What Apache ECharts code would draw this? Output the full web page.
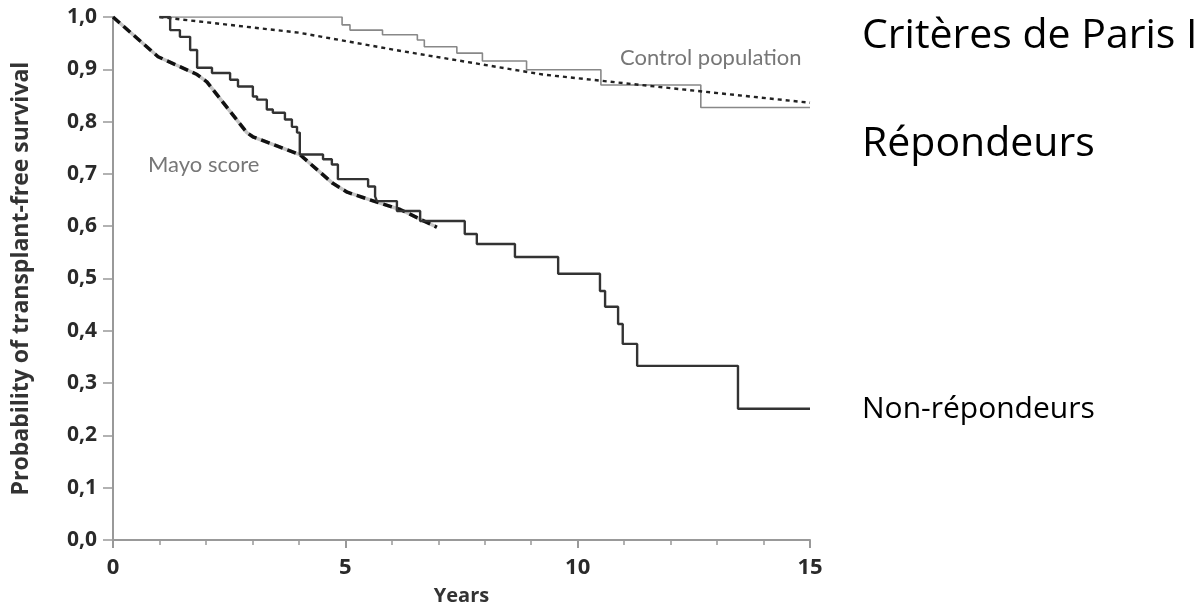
<!DOCTYPE html>
<html>
<head>
<meta charset="utf-8">
<script src="https://cdn.jsdelivr.net/npm/echarts@6/dist/echarts.min.js"></script>
<style>
html,body{margin:0;padding:0;background:#fff;}
#chart{width:1204px;height:611px;}
</style>
</head>
<body>
<div id="chart"></div>
<script>
// Non-responders (Kaplan-Meier step curve)
const nonRespYears = [1.0, 1.23, 1.44, 1.66, 1.81, 2.13, 2.52, 2.69, 3.01, 3.10, 3.31, 3.44, 3.70, 3.85, 3.96, 4.02, 4.52, 4.71, 4.84, 5.49, 5.64, 5.68, 6.11, 6.61, 7.57, 7.83, 8.65, 9.58, 10.48, 10.59, 10.87, 10.97, 11.28, 13.45, 15.0];
const nonRespSurv  = [1.0, 0.975, 0.962, 0.937, 0.903, 0.893, 0.880, 0.867, 0.848, 0.842, 0.823, 0.817, 0.804, 0.790, 0.779, 0.737, 0.728, 0.718, 0.690, 0.676, 0.657, 0.648, 0.629, 0.610, 0.585, 0.566, 0.541, 0.509, 0.476, 0.446, 0.413, 0.375, 0.333, 0.251, 0.251];
// Control population observed (step curve)
const controlYears = [1.0, 4.93, 5.1, 5.8, 6.55, 6.7, 7.4, 7.95, 8.9, 10.5, 12.65, 15.0];
const controlSurv  = [1.0, 0.985, 0.975, 0.966, 0.956, 0.943, 0.931, 0.916, 0.899, 0.870, 0.827, 0.827];
// Control population expected (dotted)
const expectedYears = [1.0, 4.0, 6.2, 9.25, 12.0, 15.0];
const expectedSurv  = [1.0, 0.970, 0.935, 0.890, 0.864, 0.836];
// Mayo score predicted (dashed)
const mayoYears = [0, 0.97, 1.81, 2.02, 2.88, 3.01, 4.02, 4.73, 5.04, 5.68, 6.18, 6.97];
const mayoSurv  = [1.0, 0.924, 0.890, 0.876, 0.779, 0.771, 0.737, 0.682, 0.665, 0.646, 0.632, 0.598];
// Axis ticks
const xTicks = [0, 5, 10, 15];
const yTicks = [0, 0.1, 0.2, 0.3, 0.4, 0.5, 0.6, 0.7, 0.8, 0.9, 1.0];
// Texts
const yTitle = 'Probability of transplant-free survival';
const xTitle = 'Years';
const labelControl = 'Control population';
const labelMayo = 'Mayo score';
const sideTitle = 'Critères de Paris I';
const sideResp = 'Répondeurs';
const sideNonResp = 'Non-répondeurs';

const zip = (a, b) => a.map((v, i) => [v, b[i]]);

const chart = echarts.init(document.getElementById('chart'));
const axisFont = '"Open Sans", Lato, sans-serif';
const noteFont = 'Lato, "Open Sans", sans-serif';
const sideFont = '"Open Sans", sans-serif';
chart.setOption({
  animation: false,
  backgroundColor: '#fff',
  grid: {left: 113, right: 394, top: 17, bottom: 69},
  xAxis: {
    type: 'value', min: 0, max: 15, interval: 5,
    name: xTitle, nameLocation: 'middle', nameGap: 46,
    nameTextStyle: {fontFamily: axisFont, fontWeight: 'bold', fontSize: 20, color: '#333'},
    axisLine: {show: true, onZero: false, lineStyle: {color: '#999', width: 2}},
    axisTick: {show: true, length: 8, lineStyle: {color: '#999', width: 2}},
    minorTick: {show: true, splitNumber: 5, length: 5, lineStyle: {color: '#999', width: 1.5}},
    axisLabel: {margin: 17, fontFamily: axisFont, fontWeight: 'bold', fontSize: 22, color: '#2a2a2a',
      formatter: v => xTicks.includes(v) ? String(v) : ''},
    splitLine: {show: false}
  },
  yAxis: {
    type: 'value', min: 0, max: 1, interval: 0.1,
    name: yTitle, nameLocation: 'middle', nameGap: 80, nameRotate: 90,
    nameTextStyle: {fontFamily: axisFont, fontWeight: 'bold', fontSize: 23, color: '#333'},
    axisLine: {show: true, onZero: false, lineStyle: {color: '#999', width: 2}},
    axisTick: {show: true, length: 10, lineStyle: {color: '#999', width: 1.5}},
    axisLabel: {margin: 16, fontFamily: axisFont, fontWeight: 'bold', fontSize: 21, color: '#2a2a2a',
      formatter: v => { const t = yTicks.find(y => Math.abs(y - v) < 1e-6); return t === undefined ? '' : t.toFixed(1).replace('.', ','); }},
    splitLine: {show: false}
  },
  series: [
    {type: 'line', name: 'Control population', data: zip(controlYears, controlSurv), step: 'end',
      showSymbol: false, lineStyle: {color: '#888', width: 1.6}},
    {type: 'line', name: 'Expected', data: zip(expectedYears, expectedSurv),
      showSymbol: false, lineStyle: {color: '#222', width: 2.4, type: [4, 4]}},
    {type: 'line', name: 'Mayo under', data: zip(mayoYears, mayoSurv),
      showSymbol: false, lineStyle: {color: '#c4c4c4', width: 3.5}},
    {type: 'line', name: 'Mayo score', data: zip(mayoYears, mayoSurv),
      showSymbol: false, lineStyle: {color: '#111', width: 3.5, type: [9, 5]}},
    {type: 'line', name: 'Non-répondeurs', data: zip(nonRespYears, nonRespSurv), step: 'end',
      showSymbol: false, lineStyle: {color: '#333', width: 2.4}}
  ],
  graphic: [
    {type: 'text', left: 620, top: 47, style: {text: labelControl, fontFamily: noteFont, fontSize: 22, fill: '#777'}},
    {type: 'text', left: 148, top: 154, style: {text: labelMayo, fontFamily: noteFont, fontSize: 22, fill: '#777'}},
    {type: 'text', left: 862, top: 16, style: {text: sideTitle, fontFamily: sideFont, fontSize: 41, fill: '#000'}},
    {type: 'text', left: 862, top: 124, style: {text: sideResp, fontFamily: sideFont, fontSize: 41, fill: '#000'}},
    {type: 'text', left: 862, top: 394, style: {text: sideNonResp, fontFamily: sideFont, fontSize: 30, fill: '#000'}}
  ]
});
</script>
</body>
</html>
